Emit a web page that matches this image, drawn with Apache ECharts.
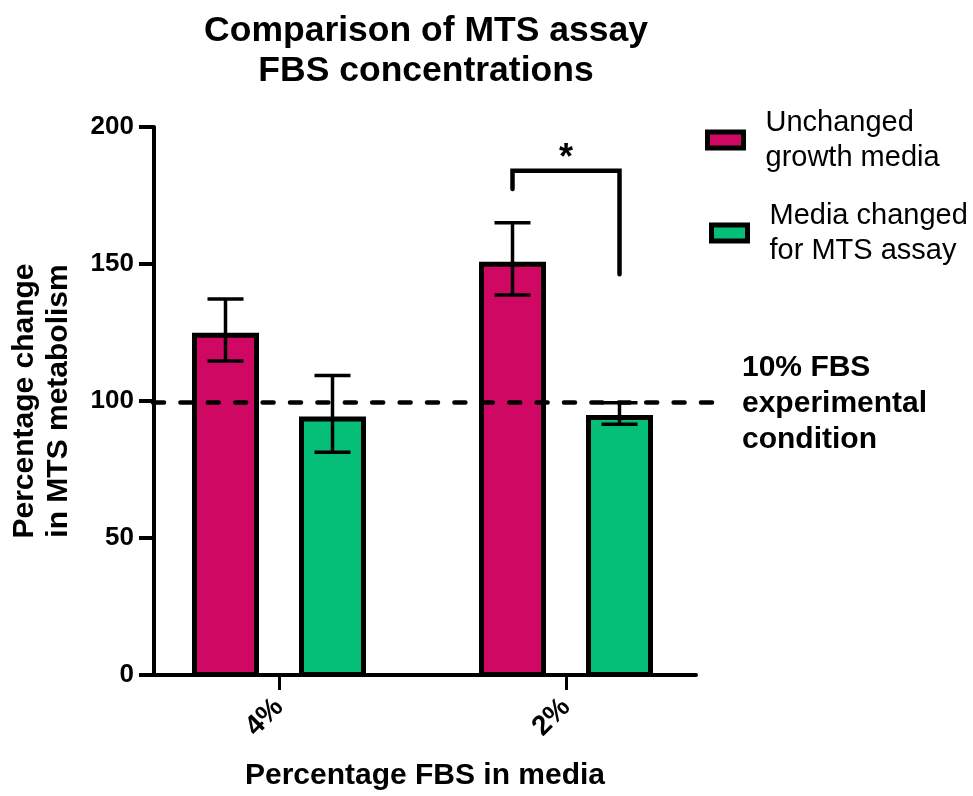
<!DOCTYPE html>
<html>
<head>
<meta charset="utf-8">
<script src="https://cdn.jsdelivr.net/npm/echarts@6/dist/echarts.min.js"></script>
<style>
html,body{margin:0;padding:0;background:#fff;}
#chart{width:973px;height:796px;}
</style>
</head>
<body>
<div id="chart"></div>
<script>
// ---- data ----
const categories = ['4%', '2%'];
const seriesNames = ['Unchanged\ngrowth media', 'Media changed\nfor MTS assay'];
const unchangedMean = [125.2, 151.0];
const unchangedLow = [114.9, 138.9];
const unchangedHigh = [137.5, 165.2];
const changedMean = [94.7, 95.3];
const changedLow = [81.7, 91.9];
const changedHigh = [109.6, 99.7];
const yMin = 0, yMax = 200, yInterval = 50;
const referenceLevel = [100];
const referenceText = '10% FBS\nexperimental\ncondition';
const bracketCategory = [1];
const bracketTop = [184.1];
const bracketLeftEnd = [177.5];
const bracketRightEnd = [146.5];
const bracketLabel = ['*'];

// ---- style ----
const FONT = '"Liberation Sans", Arial, Helvetica, sans-serif';
const MAGENTA = '#CE0863';
const GREEN = '#05BF78';
const BAR_W = 67;
const GAP_RATIO = 40 / 67;
const HALF_OFFSET = BAR_W * (1 + GAP_RATIO) / 2;

const errData = [];
categories.forEach((c, i) => {
  errData.push([i, unchangedLow[i], unchangedHigh[i], -1]);
  errData.push([i, changedLow[i], changedHigh[i], 1]);
});
const bracketData = bracketCategory.map((c, i) => [c, bracketTop[i], bracketLeftEnd[i], bracketRightEnd[i]]);

const chart = echarts.init(document.getElementById('chart'));
const hiddenY = (idx) => ({type: 'value', gridIndex: idx, min: yMin, max: yMax, interval: yInterval, show: false});
const legendText = {fontFamily: FONT, fontSize: 29, lineHeight: 35, color: '#000', padding: [0, 0, 0, 17]};

chart.setOption({
  backgroundColor: '#fff',
  animation: false,
  textStyle: {fontFamily: FONT},
  title: {
    text: 'Comparison of MTS assay\nFBS concentrations',
    left: 421, top: 6, textAlign: 'center',
    textStyle: {fontFamily: FONT, fontSize: 35.5, fontWeight: 'bold', color: '#000', lineHeight: 40}
  },
  legend: [
    {data: [seriesNames[0]], orient: 'vertical', left: 700, top: 100, icon: 'rect', itemWidth: 36, itemHeight: 16,
     itemStyle: {borderColor: '#000', borderWidth: 5}, textStyle: legendText},
    {data: [seriesNames[1]], orient: 'vertical', left: 704, top: 193, icon: 'rect', itemWidth: 36, itemHeight: 16,
     itemStyle: {borderColor: '#000', borderWidth: 5}, textStyle: legendText}
  ],
  grid: [
    {left: 135.5, right: 263.5, top: 127, bottom: 119},
    {left: 153, right: 277, top: 127, bottom: 119},
    {left: 153, right: 253, top: 127, bottom: 119}
  ],
  xAxis: [
    {type: 'category', gridIndex: 0, data: categories,
     axisLine: {show: false},
     axisTick: {show: true, alignWithLabel: true, length: 13, lineStyle: {color: '#000', width: 3}},
     axisLabel: {rotate: 45, margin: 26, fontFamily: FONT, fontSize: 28, fontWeight: 'bold', color: '#000'}},
    {type: 'category', gridIndex: 1, data: categories,
     axisLine: {show: true, lineStyle: {color: '#000', width: 4}},
     axisTick: {show: false}, axisLabel: {show: false},
     name: 'Percentage FBS in media', nameLocation: 'middle', nameGap: 86,
     nameTextStyle: {fontFamily: FONT, fontSize: 30, fontWeight: 'bold', color: '#000', lineHeight: 30}},
    {type: 'category', gridIndex: 2, data: categories, show: false}
  ],
  yAxis: [
    hiddenY(0),
    {type: 'value', gridIndex: 1, min: yMin, max: yMax, interval: yInterval,
     splitLine: {show: false},
     axisLine: {show: true, lineStyle: {color: '#000', width: 4}},
     axisTick: {show: true, length: 15, lineStyle: {color: '#000', width: 4}},
     axisLabel: {margin: 20, fontFamily: FONT, fontSize: 26, fontWeight: 'bold', color: '#000'},
     name: 'Percentage change\nin MTS metabolism', nameLocation: 'middle', nameGap: 78, nameRotate: 90,
     nameTextStyle: {fontFamily: FONT, fontSize: 30, fontWeight: 'bold', color: '#000', lineHeight: 34}},
    hiddenY(2)
  ],
  series: [
    {name: seriesNames[0], type: 'bar', xAxisIndex: 0, yAxisIndex: 0, data: unchangedMean,
     barWidth: BAR_W, barGap: (GAP_RATIO * 100) + '%',
     itemStyle: {color: MAGENTA, borderColor: '#000', borderWidth: 5}, z: 2},
    {name: seriesNames[1], type: 'bar', xAxisIndex: 0, yAxisIndex: 0, data: changedMean,
     barWidth: BAR_W, barGap: (GAP_RATIO * 100) + '%',
     itemStyle: {color: GREEN, borderColor: '#000', borderWidth: 5}, z: 2},
    {type: 'custom', xAxisIndex: 0, yAxisIndex: 0, data: errData, z: 5,
     renderItem: function (params, api) {
       const c = api.value(0);
       const lo = api.coord([c, api.value(1)]);
       const hi = api.coord([c, api.value(2)]);
       const x = lo[0] + api.value(3) * HALF_OFFSET;
       const cap = 18;
       const st = {stroke: '#000', lineWidth: 3.5};
       return {type: 'group', children: [
         {type: 'line', shape: {x1: x, y1: lo[1], x2: x, y2: hi[1]}, style: st},
         {type: 'line', shape: {x1: x - cap, y1: hi[1], x2: x + cap, y2: hi[1]}, style: st},
         {type: 'line', shape: {x1: x - cap, y1: lo[1], x2: x + cap, y2: lo[1]}, style: st}
       ]};
     }},
    {type: 'custom', xAxisIndex: 0, yAxisIndex: 0, data: bracketData, z: 5,
     renderItem: function (params, api) {
       const c = api.value(0);
       const top = api.coord([c, api.value(1)]);
       const le = api.coord([c, api.value(2)]);
       const re = api.coord([c, api.value(3)]);
       const xl = top[0] - HALF_OFFSET, xr = top[0] + HALF_OFFSET;
       return {type: 'group', children: [
         {type: 'polyline', shape: {points: [[xl, le[1]], [xl, top[1]], [xr, top[1]], [xr, re[1]]]},
          style: {stroke: '#000', lineWidth: 4.5, fill: null, lineJoin: 'miter', lineCap: 'round'}},
         {type: 'text', x: top[0], y: top[1] - 12,
          style: {text: bracketLabel[params.dataIndex], fontFamily: FONT, fontSize: 36, fontWeight: 'bold', fill: '#000', align: 'center', verticalAlign: 'middle'}}
       ]};
     }},
    {type: 'line', xAxisIndex: 2, yAxisIndex: 2, data: [], z: 6,
     markLine: {silent: true, symbol: 'none', label: {show: false},
       lineStyle: {color: '#000', width: 4.5, type: [11, 16.4], cap: 'round'},
       data: [{yAxis: referenceLevel[0]}]}}
  ],
  graphic: [
    {type: 'text', left: 742, top: 350,
     style: {text: referenceText, fontFamily: FONT, fontSize: 30, fontWeight: 'bold', fill: '#000', lineHeight: 36}}
  ]
});
</script>
</body>
</html>
